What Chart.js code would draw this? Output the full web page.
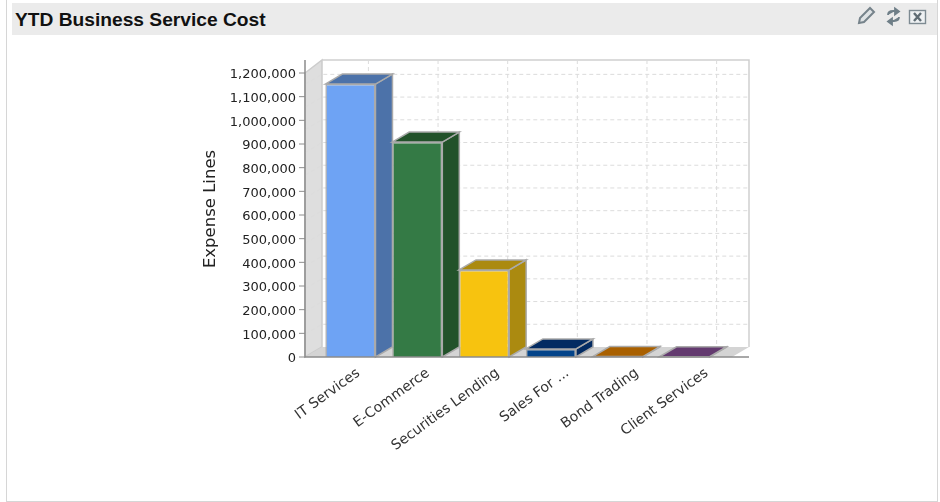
<!DOCTYPE html>
<html>
<head>
<meta charset="utf-8">
<title>YTD Business Service Cost</title>
<script src="https://cdn.jsdelivr.net/npm/chart.js@4"></script>
<style>
  html, body { margin: 0; padding: 0; background: #fff; overflow: hidden; }
  #panel { position: absolute; left: 6px; top: -1px; width: 930px; height: 501px; border: 1px solid #d6d6d6; }
  #header { position: absolute; left: 12px; top: 3px; width: 925px; height: 32px; background: #ebebeb; }
  #title { position: absolute; left: 15px; top: 9px; font: bold 19.2px "Liberation Sans", Arial, sans-serif; color: #111; white-space: nowrap; }
  #icons { position: absolute; left: 855px; top: 4px; }
  canvas { position: absolute; left: 0; top: 0; }
</style>
</head>
<body>
<div id="panel"></div>
<div id="header"></div>
<div id="title">YTD Business Service Cost</div>
<svg id="icons" width="75" height="24" viewBox="0 0 75 24" fill="none">
  <path d="M4 19 L5 14 L15 4 L19 8 L9 18 Z" fill="#dfe3e5" stroke="#76838b" stroke-width="2"/>
  <path d="M33 11 Q33 7 38 7 L40 7 M40 4.5 L44 7.5 L40 10.5 Z M44 13 Q44 17 39 17 L37 17 M37 14.5 L33 17.5 L37 20.5 Z" fill="#6f7f88" stroke="#6f7f88" stroke-width="1.8"/>
  <rect x="54.5" y="6.5" width="16" height="13" fill="#eef1f3" stroke="#7d8a92" stroke-width="1.4"/>
  <path d="M59 9 L66 17 M66 9 L59 17" stroke="#5f6c74" stroke-width="2.4"/>
</svg>
<canvas id="costChart" width="940" height="502"></canvas>
<script>
const categories = ["IT Services", "E-Commerce", "Securities Lending", "Sales For ...", "Bond Trading", "Client Services"];
const costValues = [1153000, 908000, 368000, 34000, 2000, 1000];
const yTicks = [0, 100000, 200000, 300000, 400000, 500000, 600000, 700000, 800000, 900000, 1000000, 1100000, 1200000];

const frontColors = ["#6ea3f4", "#347a45", "#f7c30f", "#03448a", "#a96000", "#633a6f"];
const sideColors = ["#4c72a9", "#22522a", "#ab8a10", "#032b62", "#764300", "#452850"];
const topColors = ["#4c72a9", "#22522a", "#ab8a10", "#032b62", "#a96000", "#633a6f"];

const depthX = 17;
const depthY = 10;
// gridlines and x labels run on a slightly wider pitch than the bars in the original
const widePitch = 1.042;

function poly(ctx, pts, fill, stroke) {
    ctx.beginPath();
    ctx.moveTo(pts[0][0], pts[0][1]);
    for (let i = 1; i < pts.length; i++) {
        ctx.lineTo(pts[i][0], pts[i][1]);
    }
    ctx.closePath();
    if (fill) {
        ctx.fillStyle = fill;
        ctx.fill();
    }
    if (stroke) {
        ctx.strokeStyle = stroke;
        ctx.lineWidth = 1.5;
        ctx.stroke();
    }
}

// walls, dashed grid and bar sides: Chart.js has no 3D bars so they hang off the scales
const box3d = {
    id: "box3d",
    beforeDatasetsDraw(chart) {
        const ctx = chart.ctx;
        const x = chart.scales.x;
        const y = chart.scales.y;
        const front = chart.chartArea.left - 12;
        const frontEnd = chart.chartArea.right + 14;
        const base = y.getPixelForValue(0);
        const top = y.getPixelForValue(1200000);
        const backBase = base - depthY;
        const gridY = v => backBase - (base - y.getPixelForValue(v)) * 0.96;
        const wallTop = top - 13;

        ctx.save();
        poly(ctx, [[front, top], [front + depthX, wallTop], [front + depthX, backBase], [front, base]], "#dedede", "#cccccc");
        poly(ctx, [[front, base], [front + depthX, backBase], [frontEnd + depthX, backBase], [frontEnd, base]], "#d4d4d4");

        ctx.strokeStyle = "#cfcfcf";
        ctx.lineWidth = 1.5;
        ctx.beginPath();
        ctx.moveTo(front + depthX, wallTop);
        ctx.lineTo(frontEnd + depthX, wallTop);
        ctx.lineTo(frontEnd + depthX, backBase);
        ctx.stroke();

        ctx.lineWidth = 1;
        ctx.setLineDash([4, 3]);
        ctx.strokeStyle = "#dcdcdc";
        yTicks.forEach(v => {
            if (v === 0) return;
            const g = gridY(v);
            ctx.beginPath();
            ctx.moveTo(front, g + depthY);
            ctx.lineTo(front + depthX, g);
            ctx.lineTo(frontEnd + depthX, g);
            ctx.stroke();
        });
        const gridStep = (x.getPixelForValue(1) - x.getPixelForValue(0)) * widePitch;
        categories.forEach((c, i) => {
            const gx = x.getPixelForValue(0) + depthX + 1 + gridStep * i;
            ctx.beginPath();
            ctx.moveTo(gx, wallTop);
            ctx.lineTo(gx, backBase);
            ctx.stroke();
        });
        ctx.setLineDash([]);

        chart.getDatasetMeta(0).data.forEach((bar, i) => {
            const l = bar.x - bar.width / 2;
            const r = bar.x + bar.width / 2;
            poly(ctx, [[r, bar.y], [r + depthX, bar.y - depthY], [r + depthX, base - depthY], [r, base]], sideColors[i], "#aaaaaa");
            poly(ctx, [[l, bar.y], [l + depthX, bar.y - depthY], [r + depthX, bar.y - depthY], [r, bar.y]], topColors[i], "#aaaaaa");
        });
        ctx.restore();
    },
    afterDraw(chart) {
        const ctx = chart.ctx;
        const x = chart.scales.x;
        const y = chart.scales.y;
        const front = chart.chartArea.left - 12;
        const frontEnd = chart.chartArea.right + 31;
        const base = y.getPixelForValue(0);

        ctx.save();
        ctx.strokeStyle = "#8c8c8c";
        ctx.lineWidth = 1.5;
        ctx.beginPath();
        ctx.moveTo(front, y.getPixelForValue(1200000) - 13);
        ctx.lineTo(front, base);
        ctx.lineTo(frontEnd, base);
        ctx.stroke();
        ctx.lineWidth = 1;
        yTicks.forEach(v => {
            const p = y.getPixelForValue(v);
            ctx.beginPath();
            ctx.moveTo(front - 6, p);
            ctx.lineTo(front, p);
            ctx.stroke();
        });
        ctx.restore();

        // x labels drawn here because the library's ticks can only sit on the bar pitch
        const step = (x.getPixelForValue(1) - x.getPixelForValue(0)) * widePitch;
        ctx.save();
        ctx.fillStyle = "#333";
        ctx.font = '14px "DejaVu Sans"';
        ctx.textAlign = "right";
        ctx.textBaseline = "top";
        categories.forEach((c, i) => {
            ctx.save();
            ctx.translate(x.getPixelForValue(0) + 4 + step * i, base + 9);
            ctx.rotate(-36 * Math.PI / 180);
            ctx.fillText(c, 0, 0);
            ctx.restore();
        });
        ctx.restore();

        ctx.save();
        ctx.translate(211, 209);
        ctx.rotate(-Math.PI / 2);
        ctx.fillStyle = "#222";
        ctx.font = '16.5px "DejaVu Sans"';
        ctx.textAlign = "center";
        ctx.textBaseline = "middle";
        ctx.fillText("Expense Lines", 0, 0);
        ctx.restore();
    }
};

const ctx = document.getElementById("costChart").getContext("2d");
const costChart = new Chart(ctx, {
    type: "bar",
    data: {
        labels: categories,
        datasets: [{
            label: "Expense Lines",
            data: costValues,
            backgroundColor: frontColors,
            borderColor: "#aaaaaa",
            borderWidth: 1.5,
            categoryPercentage: 1,
            barPercentage: 0.75
        }]
    },
    options: {
        responsive: false,
        animation: false,
        layout: { padding: { top: 73, right: 222, left: 0, bottom: 0 } },
        plugins: {
            legend: { display: false },
            title: { display: false },
            tooltip: { enabled: false }
        },
        scales: {
            x: {
                afterFit(scale) { scale.height = 145; },
                border: { display: false },
                grid: { display: false, drawTicks: false },
                ticks: { display: false }
            },
            y: {
                min: 0,
                max: 1200000,
                afterBuildTicks(scale) { scale.ticks = yTicks.map(v => ({ value: v })); },
                afterFit(scale) { scale.width = 317; },
                border: { display: false },
                grid: { display: false, drawTicks: false },
                ticks: {
                    padding: 21,
                    labelOffset: 2,
                    color: "#222",
                    font: { family: "DejaVu Sans", size: 13 },
                    callback: v => v.toLocaleString("en-US")
                }
            }
        }
    },
    plugins: [box3d]
});
</script>
</body>
</html>
